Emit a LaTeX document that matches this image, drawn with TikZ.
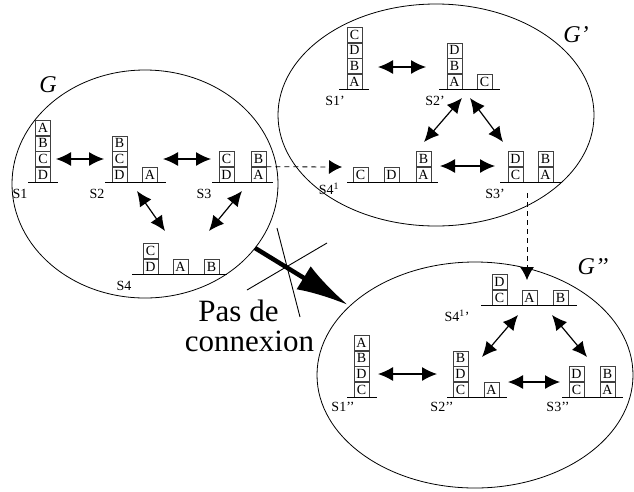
\documentclass[tikz,border=0pt]{standalone}
\usepackage{fontspec}
\setmainfont{Liberation Serif}
\usepackage{tikz}
\usetikzlibrary{arrows.meta, positioning, shapes.geometric}
\tikzstyle{block} = [rectangle, draw=black!75, line width=0.6pt, minimum size=15pt, inner sep=0pt, font=\fontsize{14}{14}\selectfont]
\tikzstyle{ground} = [line width=0.9pt]
\tikzstyle{lbl} = [inner sep=0pt, font=\fontsize{14}{14}\selectfont]
\tikzstyle{arrow} = [line width=1.2pt, {Latex[length=15pt,width=14pt]}-{Latex[length=15pt,width=14pt]}]
\tikzstyle{link} = [line width=0.8pt, dash pattern=on 5pt off 4pt, -{Latex[length=13pt,width=14pt]}]
\tikzstyle{world} = [ellipse, draw, line width=0.8pt, inner sep=0pt]
\tikzstyle{gname} = [inner sep=0pt, font=\fontsize{24}{24}\selectfont\itshape]
\tikzstyle{big} = [anchor=base, inner sep=0pt, font=\fontsize{31}{31}\selectfont]

\begin{document}
\begin{tikzpicture}[x=1pt, y=-1pt]
    \useasboundingbox (0,0) rectangle (634,491);

    % Graphs
    \node[world, minimum width=266pt, minimum height=228pt] (gA) at (145,184) {};
    \node[world, minimum width=316pt, minimum height=222pt] (gB) at (436,115) {};
    \node[world, minimum width=316pt, minimum height=226pt] (gC) at (475,375) {};
    \node[gname] (gAname) at (48,85) {G};
    \node[gname] (gBname) at (576,35) {G’};
    \node[gname] (gCname) at (593,267) {G’’};

    % G : S1
    \node[block] (s1d) at (43,174.5) {D};
    \node[block, above=0pt of s1d] (s1c) {C};
    \node[block, above=0pt of s1c] (s1b) {B};
    \node[block, above=0pt of s1b] (s1a) {A};
    \draw[ground] (28,182) -- (58,182);
    \node[lbl] (s1) at (20,194) {S1};
    % G : S2
    \node[block] (s2d) at (119.5,174.5) {D};
    \node[block, above=0pt of s2d] (s2c) {C};
    \node[block, above=0pt of s2c] (s2b) {B};
    \node[block] (s2a) at (150,174.5) {A};
    \draw[ground] (105,182) -- (166,182);
    \node[lbl] (s2) at (97,194) {S2};
    % G : S3
    \node[block] (s3d) at (226.5,174.5) {D};
    \node[block, above=0pt of s3d] (s3c) {C};
    \node[block] (s3a) at (258.5,174.5) {A};
    \node[block, above=0pt of s3a] (s3b) {B};
    \draw[ground] (212,182) -- (273,182);
    \node[lbl] (s3) at (204,194) {S3};
    % G : S4
    \node[block] (s4d) at (150.5,266.5) {D};
    \node[block, above=0pt of s4d] (s4c) {C};
    \node[block] (s4a) at (180.5,266.5) {A};
    \node[block] (s4b) at (211.5,266.5) {B};
    \draw[ground] (132,274) -- (227,274);
    \node[lbl] (s4) at (124,286) {S4};

    % G' : S1'
    \node[block] (p1a) at (354.5,81.5) {A};
    \node[block, above=0pt of p1a] (p1b) {B};
    \node[block, above=0pt of p1b] (p1d) {D};
    \node[block, above=0pt of p1d] (p1c) {C};
    \draw[ground] (339,89) -- (369,89);
    \node[lbl] (p1) at (335,101) {S1’};
    % G' : S2'
    \node[block] (p2a) at (454.5,81.5) {A};
    \node[block, above=0pt of p2a] (p2b) {B};
    \node[block, above=0pt of p2b] (p2d) {D};
    \node[block] (p2c) at (484.5,81.5) {C};
    \draw[ground] (439,89) -- (500,89);
    \node[lbl] (p2) at (435,101) {S2’};
    % G' : S4'
    \node[block] (p4c) at (360.5,174.5) {C};
    \node[block] (p4d) at (391.5,174.5) {D};
    \node[block] (p4a) at (423.5,174.5) {A};
    \node[block, above=0pt of p4a] (p4b) {B};
    \draw[ground] (347,182) -- (438,182);
    \node[lbl] (p4) at (329,189) {S4\textsuperscript{1}};
    % G' : S3'
    \node[block] (p3c) at (515.5,174.5) {C};
    \node[block, above=0pt of p3c] (p3d) {D};
    \node[block] (p3a) at (545.5,174.5) {A};
    \node[block, above=0pt of p3a] (p3b) {B};
    \draw[ground] (500,182) -- (561,182);
    \node[lbl] (p3) at (495,194) {S3’};

    % G'' : S4''
    \node[block] (q4c) at (499.5,297.5) {C};
    \node[block, above=0pt of q4c] (q4d) {D};
    \node[block] (q4a) at (529.5,297.5) {A};
    \node[block] (q4b) at (560.5,297.5) {B};
    \draw[ground] (481,305) -- (577,305);
    \node[lbl] (q4) at (457,316) {S4\textsuperscript{1}’};
    % G'' : S1''
    \node[block] (q1c) at (361.5,389.5) {C};
    \node[block, above=0pt of q1c] (q1d) {D};
    \node[block, above=0pt of q1d] (q1b) {B};
    \node[block, above=0pt of q1b] (q1a) {A};
    \draw[ground] (347,397) -- (377,397);
    \node[lbl] (q1) at (343,407) {S1’’};
    % G'' : S2''
    \node[block] (q2c) at (460.5,389.5) {C};
    \node[block, above=0pt of q2c] (q2d) {D};
    \node[block, above=0pt of q2d] (q2b) {B};
    \node[block] (q2a) at (491.5,389.5) {A};
    \draw[ground] (447,397) -- (507,397);
    \node[lbl] (q2) at (442,407) {S2’’};
    % G'' : S3''
    \node[block] (q3c) at (576.5,389.5) {C};
    \node[block, above=0pt of q3c] (q3d) {D};
    \node[block] (q3a) at (607.5,389.5) {A};
    \node[block, above=0pt of q3a] (q3b) {B};
    \draw[ground] (562,397) -- (623,397);
    \node[lbl] (q3) at (558,407) {S3’’};

    % Arrow ends
    \coordinate (a12l) at (56,159);   \coordinate (a12r) at (104,159);
    \coordinate (a23l) at (163,159);  \coordinate (a23r) at (211,159);
    \coordinate (a24t) at (137,191);  \coordinate (a24b) at (165,231);
    \coordinate (a34t) at (242,191);  \coordinate (a34b) at (209,231);
    \coordinate (b12l) at (378,67);   \coordinate (b12r) at (426,67);
    \coordinate (b24t) at (462,98);   \coordinate (b24b) at (424,142);
    \coordinate (b23t) at (470,98);   \coordinate (b23b) at (503,142);
    \coordinate (b43l) at (440,166);  \coordinate (b43r) at (495,166);
    \coordinate (c42t) at (518,315);  \coordinate (c42b) at (482,357);
    \coordinate (c43t) at (552,315);  \coordinate (c43b) at (587,357);
    \coordinate (c12l) at (378,374);  \coordinate (c12r) at (437,374);
    \coordinate (c23l) at (508,382);  \coordinate (c23r) at (560,382);
    \coordinate (linkA) at (342,167);
    \coordinate (linkB) at (527,193);
    \coordinate (linkC) at (527,280);

    % Arrows
    \draw[arrow] (a12l) -- (a12r);
    \draw[arrow] (a23l) -- (a23r);
    \draw[arrow] (a24t) -- (a24b);
    \draw[arrow] (a34t) -- (a34b);
    \draw[arrow] (b12l) -- (b12r);
    \draw[arrow] (b24t) -- (b24b);
    \draw[arrow] (b23t) -- (b23b);
    \draw[arrow] (b43l) -- (b43r);
    \draw[arrow] (c42t) -- (c42b);
    \draw[arrow] (c43t) -- (c43b);
    \draw[arrow] (c12l) -- (c12r);
    \draw[arrow] (c23l) -- (c23r);
    \draw[link] (s3a.north east) -- (linkA);
    \draw[link] (linkB) -- (linkC);

    % Pas de connexion
    \coordinate (noA) at (255,248);
    \coordinate (noB) at (348,305);
    \draw[line width=4.5pt, -{Latex[length=52pt,width=27pt]}] (noA) -- (noB);
    \coordinate (crossA) at (277,228); \coordinate (crossB) at (300,317);
    \coordinate (crossC) at (247,290); \coordinate (crossD) at (327,243);
    \draw[line width=0.9pt] (crossA) -- (crossB);
    \draw[line width=0.9pt] (crossC) -- (crossD);
    \node[big] (pas) at (238.5,321) {Pas de};
    \node[big] (connexion) at (249.5,351) {connexion};
\end{tikzpicture}
\end{document}
